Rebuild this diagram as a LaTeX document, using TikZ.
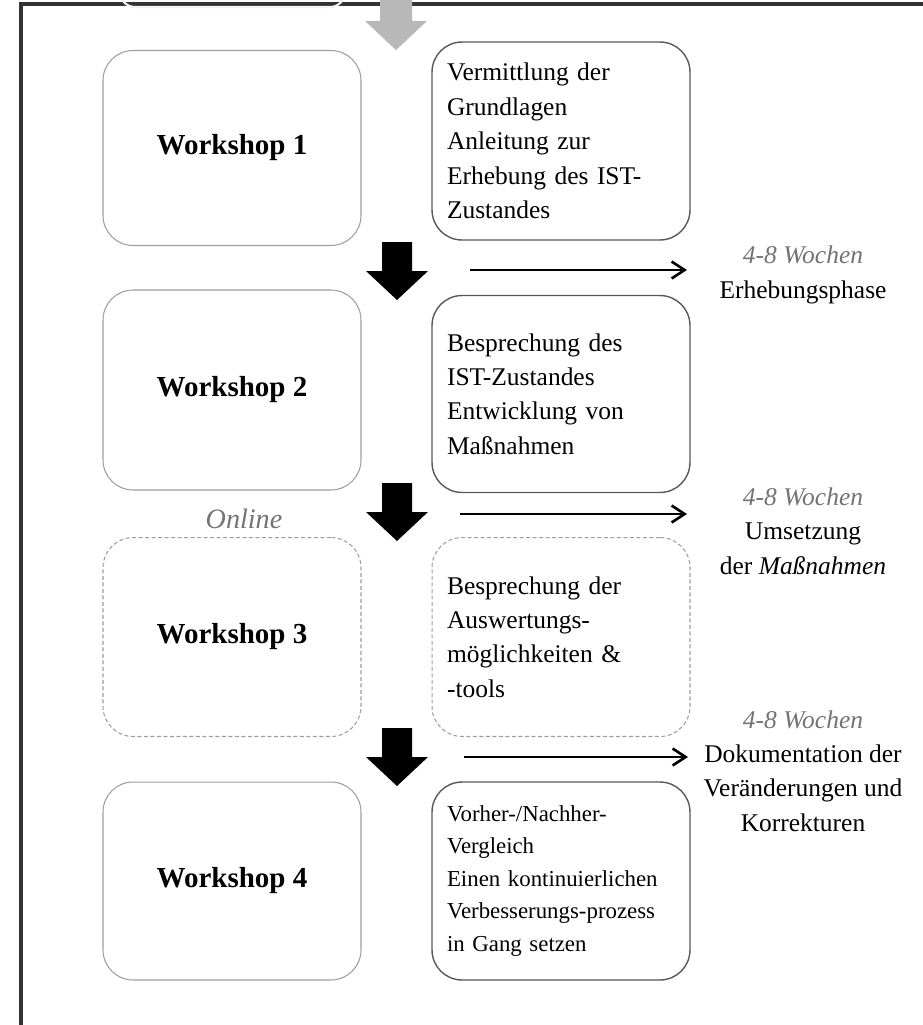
\documentclass[tikz,border=0pt]{standalone}
\usepackage{fontspec}
\setmainfont{Liberation Serif}
\usetikzlibrary{arrows.meta}
\definecolor{boxgray}{gray}{0.62}
\definecolor{linegray}{gray}{0.35}
\definecolor{notegray}{gray}{0.45}
\definecolor{arrowgray}{gray}{0.72}

\begin{document}
\begin{tikzpicture}[x=0.02cm, y=-0.02cm,
    wsbox/.style={draw=boxgray, line width=0.6pt, rounded corners=0.6cm, minimum width=5.16cm, align=center, font=\fontsize{16.5}{20}\selectfont\bfseries},
    contbox/.style={draw=linegray, line width=0.8pt, rounded corners=0.6cm, text width=4.56cm, inner xsep=0.3cm, inner ysep=0pt, align=left, font=\fontsize{14.5}{19.6}\selectfont},
    dashedbox/.style={draw=boxgray, line width=0.6pt, dash pattern=on 0.8mm off 0.5mm},
    phase/.style={align=center, font=\fontsize{14.5}{19.6}\selectfont},
    timearrow/.style={line width=1.5pt, -{Straight Barb[length=2.6mm, width=3.4mm]}}]
      \clip (0,0) rectangle (923,1025);
      \fill[white] (0,0) rectangle (923,1025);
      \draw[black!80, line width=2pt] (21,1025) -- (21,4) -- (923,4);
      \draw[black!5, line width=1.2pt, rounded corners=0.3cm] (120,-30) -- (120,7) -- (345,7) -- (345,-30);
      \fill[arrowgray, shift={(396,-8)}] (-16,0) -- (16,0) -- (16,29) -- (31,29) -- (0,58) -- (-31,29) -- (-16,29) -- cycle;

      \node[wsbox, minimum height=3.9cm]  (ws1) at (232,148) {Workshop 1};
      \node[wsbox, minimum height=4cm]    (ws2) at (232,390) {Workshop 2};
      \node[wsbox, dashedbox, minimum height=3.98cm] (ws3) at (232,637) {Workshop 3};
      \node[wsbox, minimum height=3.96cm] (ws4) at (232,881) {Workshop 4};

      \node[contbox, minimum height=3.96cm] (cont1) at (561,141) {Vermittlung der\\ Grundlagen\\ Anleitung zur\\ Erhebung des IST-\\ Zustandes};
      \node[contbox, minimum height=3.94cm] (cont2) at (561,394) {Besprechung des\\ IST-Zustandes\\ Entwicklung von\\ Maßnahmen};
      \node[contbox, dashedbox, minimum height=3.98cm] (cont3) at (561,637) {Besprechung der\\ Auswertungs-\\ möglichkeiten \&\\ -tools};
      \node[contbox, minimum height=3.96cm, font=\fontsize{13}{18.5}\selectfont] (cont4) at (561,881) {Vorher-/Nachher-\\ Vergleich\\ Einen kontinuierlichen\\ Verbesserungs-prozess\\ in Gang setzen};

      \node[font=\fontsize{16}{19}\selectfont\itshape, text=notegray] (online) at (244,519) {Online};

      \foreach \t in {242,483,728}
        \fill[shift={(397,\t)}] (-15,0) -- (15,0) -- (15,29) -- (31,29) -- (0,58) -- (-31,29) -- (-15,29) -- cycle;

      \node[phase] (phase1) at (803,275) {{\itshape\color{notegray}4-8 Wochen}\\ Erhebungsphase};
      \node[phase] (phase2) at (803,531) {{\itshape\color{notegray}4-8 Wochen}\\ Umsetzung\\ der \textit{Maßnahmen}};
      \node[phase] (phase3) at (803,771) {{\itshape\color{notegray}4-8 Wochen}\\ Dokumentation der\\ Veränderungen und\\ Korrekturen};

      \coordinate (p1s) at (470,270);
      \coordinate (p1e) at (687,270);
      \coordinate (p2s) at (460,514);
      \coordinate (p2e) at (687,514);
      \coordinate (p3s) at (464,757);
      \coordinate (p3e) at (688,757);
      \draw[timearrow] (p1s) -- (p1e);
      \draw[timearrow] (p2s) -- (p2e);
      \draw[timearrow] (p3s) -- (p3e);
    \end{tikzpicture}
\end{document}
